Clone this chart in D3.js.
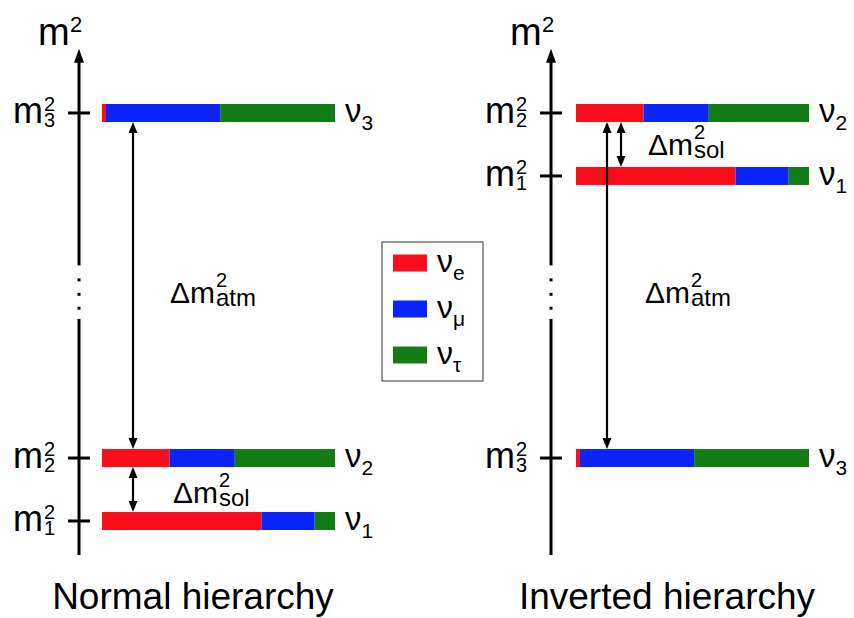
<!DOCTYPE html>
<html>
<head>
<meta charset="utf-8">
<script src="https://cdn.jsdelivr.net/npm/d3@7"></script>
<style>
  body { margin: 0; background: #fff; }
  text { font-family: "Liberation Sans", Arial, sans-serif; fill: #000; }
</style>
</head>
<body>
<svg width="854" height="618"></svg>
<script>
// mass states and their flavour content (fractions of e, mu, tau)
var states = ["1", "2", "3"];
var flavours = ["e", "μ", "τ"];
var flavourColors = ["#fc0d1b", "#0b24fb", "#147c14"];
var fracE = [0.685, 0.29, 0.017];
var fracMu = [0.228, 0.28, 0.49];
var fracTau = [0.087, 0.43, 0.493];

// level heights (arbitrary units, axis is broken) for each ordering
var normalLevels = [0, 1, 6.48];
var invertedLevels = [5.48, 6.48, 1];

// splittings: [upper state, lower state, label]
var normalGaps = [["3", "2", "atm"], ["2", "1", "sol"]];
var invertedGaps = [["2", "1", "sol"], ["2", "3", "atm"]];

var titles = ["Normal hierarchy", "Inverted hierarchy"];

var svg = d3.select("svg");

var y = d3.scaleLinear()
    .domain([0, 6.48])
    .range([521, 113]);

var barH = 18;

// per-panel layout
var panels = [
  { title: titles[0], levels: normalLevels, gaps: normalGaps, axisX: 79, barX: 102,
    arrowX: { atm: 133, sol: 133 }, labelDx: { atm: 37, sol: 40 }, labelBase: { atm: 303, sol: 503 },
    titleX: 193 },
  { title: titles[1], levels: invertedLevels, gaps: invertedGaps, axisX: 551, barX: 576,
    arrowX: { atm: 607, sol: 621 }, labelDx: { atm: 38, sol: 27 }, labelBase: { atm: 303, sol: 155 },
    titleX: 667 }
];

var frac = d3.scaleLinear().domain([0, 1]).range([0, 233]);

// draws a double headed arrow between y1 (top) and y2 (bottom)
function doubleArrow(g, x, y1, y2) {
  var hl = 11, hw = 4.5;
  g.append("line")
    .attr("x1", x).attr("x2", x)
    .attr("y1", y1 + 4).attr("y2", y2 - 4)
    .attr("stroke", "#000").attr("stroke-width", 2.2);
  g.append("path")
    .attr("d", "M" + x + "," + y1 + "L" + (x - hw) + "," + (y1 + hl) + "L" + (x + hw) + "," + (y1 + hl) + "Z")
    .attr("fill", "#000");
  g.append("path")
    .attr("d", "M" + x + "," + y2 + "L" + (x - hw) + "," + (y2 - hl) + "L" + (x + hw) + "," + (y2 - hl) + "Z")
    .attr("fill", "#000");
}

// text with a stacked superscript and subscript, in one text element
function stacked(g, x, yb, base, size, sup, supSize, supDy, sub, subSize, subDy, gap) {
  var t = g.append("text").attr("x", x).attr("y", yb);
  t.append("tspan").style("font-size", size + "px").text(base);
  t.append("tspan").attr("x", x + gap).attr("y", yb + supDy)
    .style("font-size", supSize + "px").text(sup);
  if (sub) {
    t.append("tspan").attr("x", x + gap).attr("y", yb + subDy)
      .style("font-size", subSize + "px").text(sub);
  }
  return t;
}

panels.forEach(function(p) {
  var g = svg.append("g");
  var ax = p.axisX;

  // axis with a break
  var top = y(7.5), bottom = y(-0.54);
  var breakTop = y(4.06), breakBottom = y(3.21);
  g.append("line").attr("x1", ax).attr("x2", ax)
    .attr("y1", top + 8).attr("y2", breakTop)
    .attr("stroke", "#000").attr("stroke-width", 3);
  g.append("line").attr("x1", ax).attr("x2", ax)
    .attr("y1", breakBottom).attr("y2", bottom)
    .attr("stroke", "#000").attr("stroke-width", 3);
  g.append("path")
    .attr("d", "M" + ax + "," + top + "L" + (ax - 5) + "," + (top + 14) + "L" + (ax + 5) + "," + (top + 14) + "Z")
    .attr("fill", "#000");
  g.selectAll("rect.dot")
    .data([3.83, 3.6, 3.38])
    .enter().append("rect")
    .attr("class", "dot")
    .attr("x", ax - 1.5).attr("y", function(d) { return y(d) - 1.5; })
    .attr("width", 3).attr("height", 3)
    .attr("fill", "#000");

  // axis title m^2
  stacked(g, ax - 41, 45, "m", 38, "2", 22, -13, null, 0, 0, 32);

  // ticks and tick labels
  states.forEach(function(s, i) {
    var ly = y(p.levels[i]);
    g.append("line").attr("x1", ax - 11).attr("x2", ax + 11)
      .attr("y1", ly).attr("y2", ly)
      .attr("stroke", "#000").attr("stroke-width", 3);
    stacked(g, ax - 66, ly + 10, "m", 36, "2", 20, -12, s, 20, 4, 31);
  });

  // bars, stacked by flavour
  states.forEach(function(s, i) {
    var ly = y(p.levels[i]);
    var parts = [fracE[i], fracMu[i], fracTau[i]];
    var x0 = 0;
    parts.forEach(function(f, k) {
      g.append("rect")
        .attr("x", p.barX + frac(x0))
        .attr("y", ly - barH / 2)
        .attr("width", frac(f))
        .attr("height", barH)
        .attr("fill", flavourColors[k]);
      x0 += f;
    });
    // nu label
    var t = g.append("text")
      .attr("x", p.barX + frac(1) + 10)
      .attr("y", ly + 9)
      .style("font-size", "33px");
    t.append("tspan").text("ν");
    t.append("tspan").attr("dy", 8).style("font-size", "21px").text(s);
  });

  // splitting arrows and labels
  p.gaps.forEach(function(gp) {
    var hi = p.levels[states.indexOf(gp[0])];
    var lo = p.levels[states.indexOf(gp[1])];
    var yTop = y(Math.max(hi, lo)) + barH / 2;
    var yBot = y(Math.min(hi, lo)) - barH / 2;
    var axx = p.arrowX[gp[2]];
    doubleArrow(g, axx, yTop, yBot);

    stacked(g, axx + p.labelDx[gp[2]], p.labelBase[gp[2]],
      "Δm", 30, "2", 20, -16, gp[2], 24, 3, 46);
  });

  // panel title
  g.append("text").attr("x", p.titleX).attr("y", 609)
    .attr("text-anchor", "middle").style("font-size", "37px").text(p.title);
});

// legend
var legend = svg.append("g");
legend.append("rect")
  .attr("x", 382).attr("y", 242)
  .attr("width", 101).attr("height", 139)
  .attr("fill", "#fff").attr("stroke", "#333").attr("stroke-width", 1);

var ly = d3.scalePoint().domain(flavours).range([263, 355]);
flavours.forEach(function(f, k) {
  legend.append("rect")
    .attr("x", 393).attr("y", ly(f) - 8.5)
    .attr("width", 34).attr("height", 17)
    .attr("fill", flavourColors[k]);
  var t = legend.append("text")
    .attr("x", 437).attr("y", ly(f) + 9)
    .style("font-size", "32px");
  t.append("tspan").text("ν");
  t.append("tspan").attr("dy", 8).style("font-size", "21px").text(f);
});
</script>
</body>
</html>
